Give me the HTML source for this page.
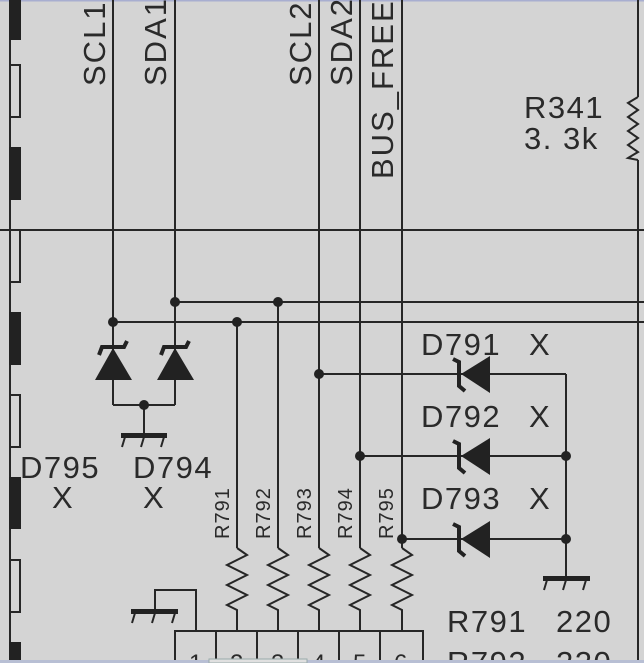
<!DOCTYPE html>
<html><head><meta charset="utf-8"><style>
html,body{margin:0;padding:0;background:#d4d4d4;}
svg{display:block;}
text{font-family:"Liberation Sans",sans-serif;fill:#2a2a2a;}
</style></head><body>
<svg width="644" height="663" viewBox="0 0 644 663" xmlns="http://www.w3.org/2000/svg">
<rect width="644" height="663" fill="#d4d4d4"/>
<rect x="0" y="0" width="644" height="1.5" fill="#a8aed0"/>
<g stroke="#262626" stroke-width="2" fill="none">
<line x1="10" y1="0" x2="10" y2="663"/>
<rect x="10" y="65" width="10" height="52"/>
<rect x="10" y="230" width="10" height="52"/>
<rect x="10" y="395" width="10" height="52"/>
<rect x="10" y="560" width="10" height="52"/>
<line x1="113" y1="0" x2="113" y2="322"/>
<line x1="175" y1="0" x2="175" y2="302"/>
<line x1="319" y1="0" x2="319" y2="548"/>
<line x1="360" y1="0" x2="360" y2="548"/>
<line x1="402" y1="0" x2="402" y2="548"/>
<line x1="638" y1="0" x2="638" y2="97"/>
<line x1="638" y1="160" x2="638" y2="663"/>
<polyline points="638,97 628,103 638,110 628,117 638,124 628,131 638,138 628,145 638,152 628,158 638,160"/>
<line x1="0" y1="230" x2="644" y2="230"/>
<line x1="175" y1="302" x2="644" y2="302"/>
<line x1="113" y1="322" x2="644" y2="322"/>
<line x1="237" y1="322" x2="237" y2="548"/>
<line x1="278" y1="302" x2="278" y2="548"/>
<line x1="113" y1="322" x2="113" y2="405"/>
<line x1="175" y1="302" x2="175" y2="405"/>
<line x1="113" y1="405" x2="175" y2="405"/>
<line x1="144" y1="405" x2="144" y2="435"/>
<polyline points="237,548 247,555 227,565 247,575 227,585 247,595 227,605 237,610 237,631"/>
<polyline points="278,548 288,555 268,565 288,575 268,585 288,595 268,605 278,610 278,631"/>
<polyline points="319,548 329,555 309,565 329,575 309,585 329,595 309,605 319,610 319,631"/>
<polyline points="360,548 370,555 350,565 370,575 350,585 370,595 350,605 360,610 360,631"/>
<polyline points="402,548 412,555 392,565 412,575 392,585 412,595 392,605 402,610 402,631"/>
<polyline points="175,663 175,631 423,631 423,663"/>
<line x1="216" y1="631" x2="216" y2="663"/>
<line x1="257" y1="631" x2="257" y2="663"/>
<line x1="298" y1="631" x2="298" y2="663"/>
<line x1="339" y1="631" x2="339" y2="663"/>
<line x1="380" y1="631" x2="380" y2="663"/>
<polyline points="196,631 196,590 155,590 155,611"/>
<line x1="319" y1="374" x2="566" y2="374"/>
<line x1="360" y1="456" x2="566" y2="456"/>
<line x1="402" y1="539" x2="566" y2="539"/>
<line x1="566" y1="374" x2="566" y2="578"/>
<path d="M125,437 l-3,10 M144,437 l-3,10 M164,437 l-3,10"/>
<path d="M135,613 l-3,10 M155,613 l-3,10 M175,613 l-3,10"/>
<path d="M547,580 l-3,10 M566,580 l-3,10 M586,580 l-3,10"/>
</g>
<g fill="#222">
<rect x="9" y="0" width="12" height="40"/>
<rect x="9" y="147" width="12" height="53"/>
<rect x="9" y="312" width="12" height="53"/>
<rect x="9" y="477" width="12" height="52"/>
<rect x="9" y="642" width="12" height="21"/>
<polygon points="113,348 95,380 132,380"/>
<polygon points="175,348 157,380 194,380"/>
<path d="M99,355 L102,347 L124,347 L127,341" stroke="#222" stroke-width="4" fill="none"/>
<path d="M161,355 L164,347 L186,347 L189,341" stroke="#222" stroke-width="4" fill="none"/>
<rect x="121" y="433" width="46" height="5"/>
<rect x="131" y="609" width="47" height="5"/>
<rect x="543" y="576" width="47" height="5"/>
<polygon points="461,374 490,356 490,393"/>
<polygon points="461,456 490,438 490,475"/>
<polygon points="461,539 490,521 490,558"/>
<path d="M453,359 L459,362 L459,386 L465,391" stroke="#222" stroke-width="4" fill="none"/>
<path d="M453,441 L459,444 L459,468 L465,473" stroke="#222" stroke-width="4" fill="none"/>
<path d="M453,524 L459,527 L459,551 L465,556" stroke="#222" stroke-width="4" fill="none"/>
<circle cx="175" cy="302" r="5"/><circle cx="278" cy="302" r="5"/>
<circle cx="113" cy="322" r="5"/><circle cx="237" cy="322" r="5"/>
<circle cx="144" cy="405" r="5"/>
<circle cx="319" cy="374" r="5"/>
<circle cx="360" cy="456" r="5"/><circle cx="566" cy="456" r="5"/>
<circle cx="402" cy="539" r="5"/><circle cx="566" cy="539" r="5"/>
</g>
<g font-size="31" letter-spacing="2">
<text transform="translate(105,86) rotate(-90)">SCL1</text>
<text transform="translate(166,86) rotate(-90)">SDA1</text>
<text transform="translate(311,86) rotate(-90)">SCL2</text>
<text transform="translate(352,86) rotate(-90)">SDA2</text>
<text transform="translate(393,179) rotate(-90)">BUS_FREE</text>
</g>
<g font-size="20" letter-spacing="1">
<text transform="translate(229,539) rotate(-90)">R791</text>
<text transform="translate(270,539) rotate(-90)">R792</text>
<text transform="translate(311,539) rotate(-90)">R793</text>
<text transform="translate(352,539) rotate(-90)">R794</text>
<text transform="translate(393,539) rotate(-90)">R795</text>
</g>
<g font-size="31" letter-spacing="1.5">
<text x="524" y="118">R341</text>
<text x="524" y="149">3. 3k</text>
<text x="20" y="478">D795</text>
<text x="52" y="508">X</text>
<text x="133" y="478">D794</text>
<text x="143" y="508">X</text>
<text x="421" y="355">D791</text><text x="529" y="355">X</text>
<text x="421" y="427">D792</text><text x="529" y="427">X</text>
<text x="421" y="509">D793</text><text x="529" y="509">X</text>
<text x="447" y="632">R791</text><text x="556" y="632">220</text>
<text x="447" y="673">R792</text><text x="556" y="673">220</text>
</g>
<g font-size="24">
<text x="189" y="671">1</text><text x="230" y="671">2</text><text x="271" y="671">3</text>
<text x="312" y="671">4</text><text x="353" y="671">5</text><text x="394" y="671">6</text>
</g>
<rect x="0" y="660" width="644" height="3" fill="#b8bfd4"/>
<rect x="209" y="659" width="98" height="4" fill="#e0e0e0" stroke="#9aa" stroke-width="1"/>
</svg>
</body></html>
